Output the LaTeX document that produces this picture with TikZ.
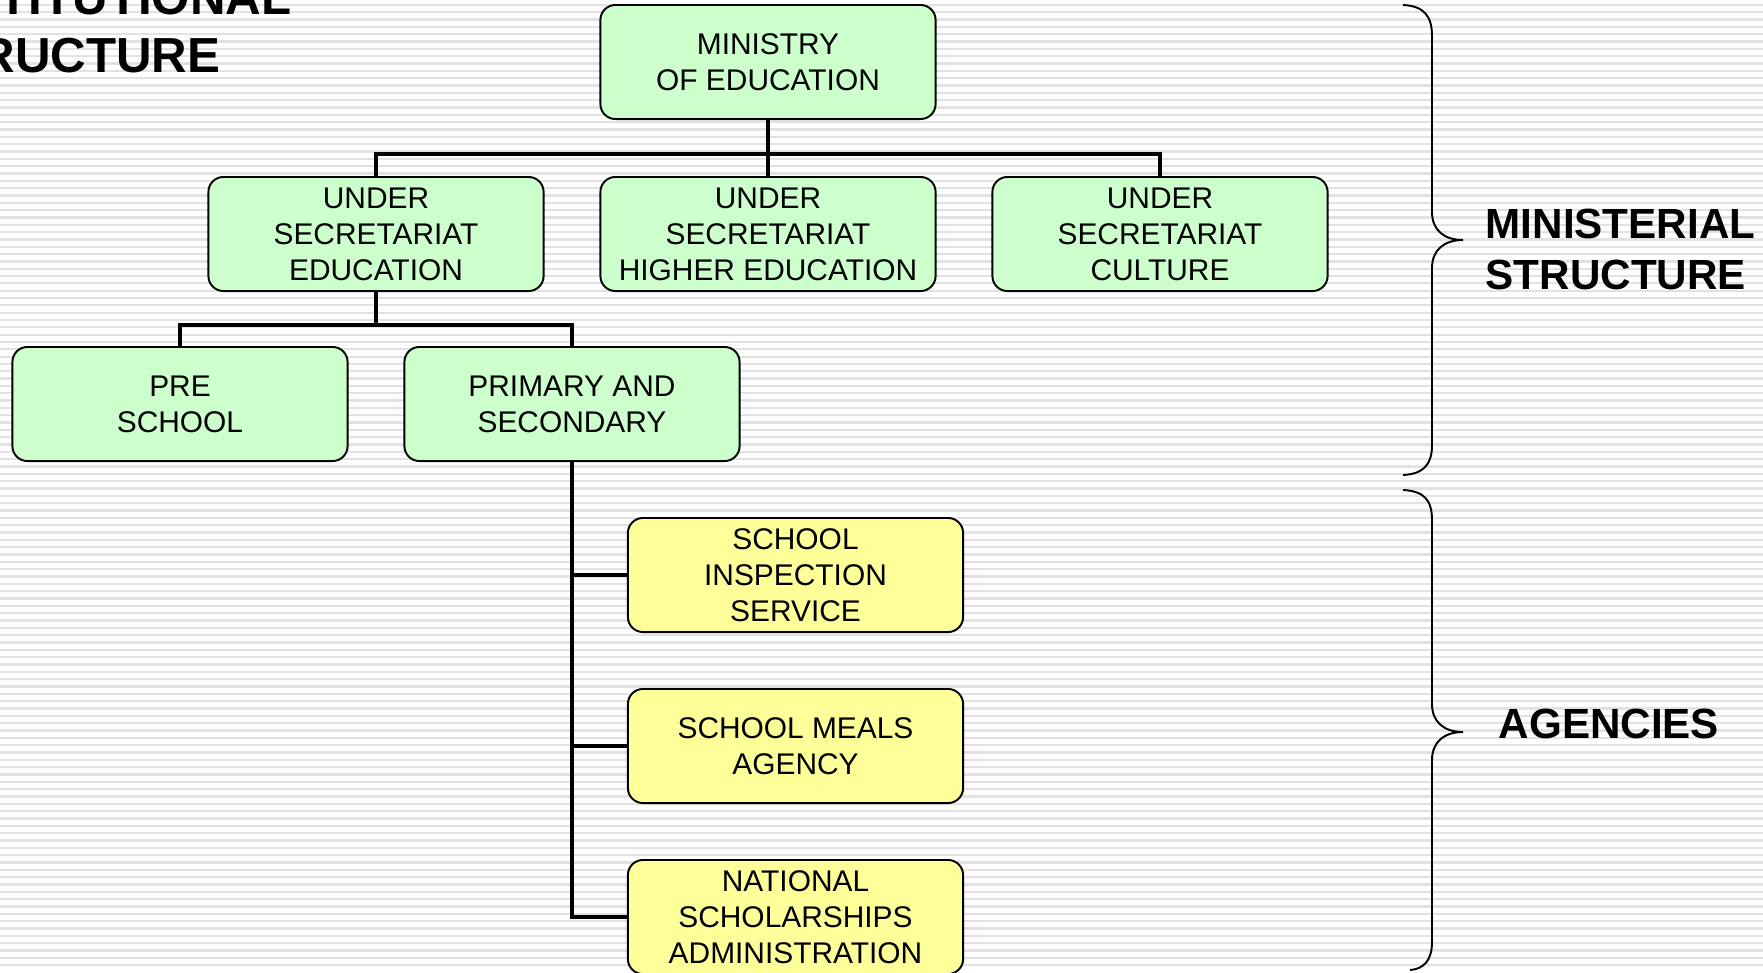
\documentclass[tikz,border=0pt]{standalone}
\usepackage{fontspec}
\setmainfont{Liberation Sans}
\definecolor{boxgreen}{HTML}{CCFFCC}
\definecolor{boxyellow}{HTML}{FFFF99}
\definecolor{stripegray}{HTML}{E2E2E2}
\begin{document}
\begin{tikzpicture}
  [x=0.01cm,y=-0.01cm,
   unit/.style={draw=black,line width=0.55pt,rounded corners=0.15cm,
     minimum width=3.35cm,minimum height=1.14cm,inner sep=0pt,
     align=center,font=\fontsize{8.5}{10.2}\selectfont},
   ministry/.style={unit,fill=boxgreen},
   agency/.style={unit,fill=boxyellow},
   link/.style={line width=1.4pt},
   curly/.style={line width=0.55pt},
   heading/.style={inner sep=0pt,anchor=north west,align=left,
     font=\fontsize{12}{14.7}\selectfont\bfseries}]
\useasboundingbox (0,0) rectangle (1763,972);
\clip (0,0) rectangle (1763,972);
  \fill[white] (0,0) rectangle (1763,972);
  \foreach \y in {4.8,12.13,...,972}
    \draw[stripegray,line width=0.65pt] (0,\y) -- (1763,\y);

  \node[ministry] (min) at (768,62) {MINISTRY\\OF EDUCATION};
  \node[ministry] (usEdu) at (376,234) {UNDER\\SECRETARIAT\\EDUCATION};
  \node[ministry] (usHigh) at (768,234) {UNDER\\SECRETARIAT\\HIGHER EDUCATION};
  \node[ministry] (usCult) at (1160,234) {UNDER\\SECRETARIAT\\CULTURE};
  \node[ministry] (pre) at (180,404) {PRE\\SCHOOL};
  \node[ministry] (prim) at (572,404) {PRIMARY AND\\SECONDARY};
  \node[agency] (agInsp) at (795.5,575) {SCHOOL\\INSPECTION\\SERVICE};
  \node[agency] (agMeals) at (795.5,746) {SCHOOL MEALS\\AGENCY};
  \node[agency] (agSchol) at (795.5,917) {NATIONAL\\SCHOLARSHIPS\\ADMINISTRATION};

  \foreach \to in {usEdu, usHigh, usCult}
    \draw[link] (min.south) -- ++(0,34) -| (\to.north);
  \foreach \to in {pre, prim}
    \draw[link] (usEdu.south) -- ++(0,33) -| (\to.north);
  \foreach \to in {agInsp, agMeals, agSchol}
    \draw[link] (prim.south) |- (\to.west);

  \draw[curly] (1403,5) .. controls (1424,6) and (1432,16) .. (1432,36)
    -- (1432,212) .. controls (1432,230) and (1444,240) .. (1463,240)
    .. controls (1444,240) and (1432,250) .. (1432,268)
    -- (1432,445) .. controls (1432,464) and (1424,474) .. (1403,475);
  \draw[curly] (1403,490) .. controls (1424,491) and (1432,500) .. (1432,520)
    -- (1432,704) .. controls (1432,722) and (1444,732) .. (1463,732)
    .. controls (1444,732) and (1432,742) .. (1432,760)
    -- (1432,942) .. controls (1432,960) and (1424,969) .. (1410,970);

  \node[heading,font=\fontsize{14}{16.5}\selectfont\bfseries] (title) at (-84,-21) {INSTITUTIONAL\\STRUCTURE};
  \node[heading] (minLabel) at (1485,208) {MINISTERIAL\\STRUCTURE};
  \node[heading] (agLabel) at (1498,708) {AGENCIES};
\end{tikzpicture}
\end{document}
